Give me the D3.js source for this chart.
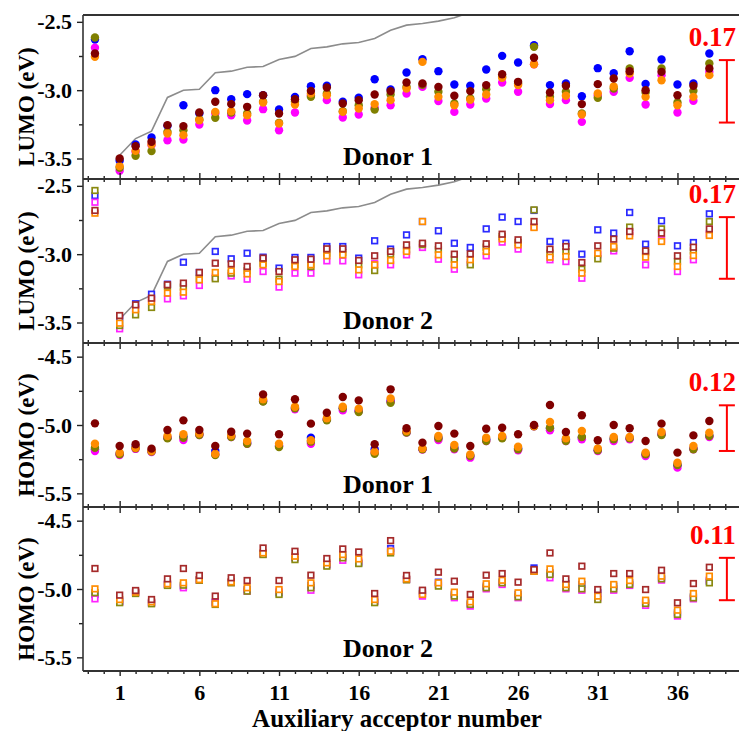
<!DOCTYPE html>
<html><head><meta charset="utf-8">
<script src="https://cdn.jsdelivr.net/npm/d3@7"></script>
<style>
body{margin:0;background:#fff}
svg text{font-family:"Liberation Serif","Times New Roman",serif;font-weight:bold;fill:#000}
</style>
</head><body>
<svg id="chart" width="739" height="731"></svg>
<script>
// ---------------- DATA ----------------
const acceptorX = [-0.55,1,2,3,4,5,6,7,8,9,10,11,12,13,14,15,16,17,18,19,20,21,22,23,24,25,26,27,28,29,30,31,32,33,34,35,36,37,38];
const xTickLabels = ["1","6","11","16","21","26","31","36"];
const seriesNames = ["blue","magenta","olive","orange","maroon"];

// auxiliary acceptor LUMO (grey line), acceptors 1..23 (continues above the frame)
const lineX = [1,2,3,4,5,6,7,8,9,10,11,12,13,14,15,16,17,18,19,20,21,22,23];
const acceptorLumo = [-3.476,-3.354,-3.30,-3.053,-3.0,-2.993,-2.873,-2.861,-2.832,-2.827,-2.775,-2.753,-2.695,-2.683,-2.661,-2.651,-2.622,-2.561,-2.524,-2.512,-2.495,-2.47,-2.43];

// LUMO, Donor 1
const lumoD1_blue    = [-2.629,-3.517,-3.398,-3.346,-3.261,-3.110,-3.17,-3.0,-3.066,-3.029,-3.037,-3.141,-3.049,-2.971,-2.968,-3.085,-3.056,-2.92,-2.995,-2.871,-2.773,-2.861,-2.959,-2.968,-2.849,-2.749,-2.798,-2.671,-2.963,-2.951,-3.044,-2.839,-2.876,-2.715,-2.954,-2.776,-2.959,-2.951,-2.732];
const lumoD1_olive   = [-2.615,-3.568,-3.48,-3.446,-3.305,-3.293,-3.215,-3.202,-3.163,-3.171,-3.085,-3.239,-3.085,-3.049,-3.024,-3.154,-3.11,-3.141,-3.032,-2.976,-2.96,-3.012,-3.098,-3.061,-2.993,-2.902,-2.951,-2.683,-3.049,-3.012,-3.171,-3.056,-2.988,-2.841,-3.017,-2.841,-3.09,-3.005,-2.805];
const lumoD1_magenta = [-2.69,-3.59,-3.451,-3.402,-3.366,-3.361,-3.251,-3.171,-3.183,-3.222,-3.139,-3.293,-3.163,-3.037,-3.073,-3.2,-3.178,-3.13,-3.11,-3.024,-2.976,-3.08,-3.159,-3.105,-3.061,-2.944,-3.012,-2.81,-3.102,-3.073,-3.232,-3.037,-3.012,-2.91,-3.105,-2.89,-3.163,-3.078,-2.866];
const lumoD1_maroon  = [-2.732,-3.5,-3.41,-3.378,-3.256,-3.263,-3.163,-3.085,-3.102,-3.122,-3.037,-3.171,-3.066,-3.005,-2.98,-3.098,-3.073,-3.032,-3.007,-2.944,-2.951,-2.976,-3.041,-3.007,-2.963,-2.883,-2.939,-2.763,-3.017,-2.968,-3.102,-2.956,-2.915,-2.861,-3.0,-2.866,-3.037,-2.968,-2.841];
const lumoD1_orange  = [-2.756,-3.556,-3.444,-3.398,-3.317,-3.329,-3.22,-3.159,-3.154,-3.183,-3.09,-3.244,-3.105,-3.024,-3.037,-3.159,-3.134,-3.102,-3.073,-2.988,-2.793,-3.049,-3.11,-3.07,-3.032,-2.91,-2.963,-2.81,-3.073,-3.041,-3.178,-3.024,-2.973,-2.878,-3.049,-2.927,-3.11,-3.049,-2.89];

// LUMO, Donor 2
const lumoD2_blue    = [-2.571,-3.468,-3.363,-3.293,-3.22,-3.059,-3.134,-2.98,-3.034,-2.993,-3.022,-3.102,-3.024,-3.024,-2.944,-2.944,-3.029,-2.902,-2.963,-2.859,-2.761,-2.829,-2.92,-2.951,-2.815,-2.729,-2.761,-2.68,-2.907,-2.92,-3.0,-2.822,-2.846,-2.695,-2.927,-2.756,-2.939,-2.915,-2.705];
const lumoD2_olive   = [-2.534,-3.522,-3.444,-3.39,-3.234,-3.241,-3.176,-3.18,-3.139,-3.122,-3.066,-3.183,-3.078,-3.09,-2.993,-2.99,-3.078,-3.12,-3.0,-2.968,-2.93,-2.968,-3.037,-3.078,-2.949,-2.871,-2.915,-2.676,-2.993,-2.98,-3.11,-3.034,-2.956,-2.802,-2.988,-2.815,-3.054,-2.976,-2.761];
const lumoD2_magenta = [-2.62,-3.546,-3.395,-3.334,-3.327,-3.305,-3.229,-3.168,-3.159,-3.183,-3.127,-3.241,-3.139,-3.139,-3.049,-3.049,-3.151,-3.07,-3.078,-3.005,-2.951,-3.037,-3.11,-3.06,-3.012,-2.912,-2.963,-2.8,-3.041,-3.054,-3.176,-3.005,-2.976,-2.846,-3.078,-2.895,-3.127,-3.041,-2.851];
const lumoD2_maroon  = [-2.68,-3.449,-3.371,-3.322,-3.224,-3.212,-3.134,-3.066,-3.071,-3.09,-3.029,-3.127,-3.041,-3.037,-2.961,-2.961,-3.046,-3.012,-2.98,-2.932,-2.92,-2.939,-3.0,-2.998,-2.924,-2.854,-2.895,-2.761,-2.963,-2.944,-3.061,-2.939,-2.89,-2.834,-2.976,-2.846,-3.012,-2.949,-2.815];
const lumoD2_orange  = [-2.7,-3.505,-3.407,-3.346,-3.285,-3.278,-3.188,-3.134,-3.122,-3.144,-3.078,-3.2,-3.09,-3.078,-3.012,-3.005,-3.115,-3.078,-3.046,-2.98,-2.761,-3.005,-3.078,-3.041,-2.98,-2.888,-2.932,-2.805,-3.022,-3.017,-3.139,-2.993,-2.944,-2.866,-3.022,-2.907,-3.09,-3.01,-2.863];

// HOMO, Donor 1
const homoD1_blue    = [-5.178,-5.21,-5.16,-5.19,-5.093,-5.085,-5.068,-5.19,-5.08,-5.13,-4.824,-5.154,-4.873,-5.093,-4.959,-4.878,-4.898,-5.178,-4.824,-5.052,-5.175,-5.093,-5.166,-5.227,-5.105,-5.088,-5.171,-5.005,-5.024,-5.105,-5.093,-5.185,-5.098,-5.098,-5.215,-5.068,-5.295,-5.171,-5.08];
const homoD1_olive   = [-5.166,-5.215,-5.17,-5.195,-5.098,-5.093,-5.073,-5.22,-5.088,-5.137,-4.829,-5.161,-4.878,-5.122,-4.966,-4.878,-4.905,-5.21,-4.837,-5.056,-5.178,-5.098,-5.173,-5.227,-5.117,-5.098,-5.178,-5.01,-5.02,-5.117,-5.088,-5.185,-5.105,-5.098,-5.215,-5.073,-5.293,-5.178,-5.08];
const homoD1_magenta = [-5.19,-5.22,-5.175,-5.198,-5.093,-5.11,-5.073,-5.215,-5.088,-5.137,-4.824,-5.154,-4.885,-5.137,-4.959,-4.893,-4.898,-5.202,-4.829,-5.056,-5.18,-5.11,-5.178,-5.239,-5.117,-5.093,-5.185,-5.01,-5.039,-5.117,-5.105,-5.19,-5.117,-5.105,-5.227,-5.068,-5.312,-5.178,-5.088];
const homoD1_maroon  = [-4.988,-5.154,-5.141,-5.173,-5.037,-4.966,-5.037,-5.154,-5.049,-5.063,-4.776,-5.068,-4.812,-4.99,-4.91,-4.795,-4.82,-5.141,-4.739,-5.024,-5.129,-5.007,-5.063,-5.154,-5.027,-5.02,-5.068,-5.0,-4.854,-5.051,-4.929,-5.112,-5.0,-5.024,-5.117,-4.99,-5.202,-5.076,-4.971];
const homoD1_orange  = [-5.137,-5.202,-5.166,-5.19,-5.08,-5.068,-5.063,-5.21,-5.076,-5.117,-4.812,-5.137,-4.866,-5.112,-4.951,-4.866,-4.88,-5.195,-4.805,-5.044,-5.171,-5.08,-5.146,-5.215,-5.093,-5.08,-5.159,-5.007,-4.978,-5.098,-5.044,-5.171,-5.088,-5.088,-5.202,-5.051,-5.276,-5.154,-5.056];

// HOMO, Donor 2
const homoD2_blue    = [-5.04,-5.09,-5.023,-5.1,-4.967,-4.979,-4.934,-5.096,-4.95,-5.004,-4.742,-5.028,-4.77,-4.974,-4.82,-4.76,-4.809,-5.089,-4.704,-4.93,-5.016,-4.95,-5.04,-5.106,-4.979,-4.948,-5.04,-4.846,-4.882,-4.962,-4.967,-5.028,-4.979,-4.955,-5.096,-4.918,-5.174,-5.057,-4.943];
const homoD2_olive   = [-5.027,-5.1,-5.033,-5.108,-4.974,-4.972,-4.936,-5.113,-4.955,-5.016,-4.748,-5.04,-4.785,-4.991,-4.833,-4.772,-4.814,-5.1,-4.736,-4.933,-5.033,-4.979,-5.052,-5.113,-4.991,-4.955,-5.057,-4.87,-4.894,-4.991,-4.999,-5.077,-4.999,-4.967,-5.106,-4.926,-5.186,-5.065,-4.955];
const homoD2_magenta = [-5.072,-5.096,-5.028,-5.104,-4.967,-4.991,-4.934,-5.1,-4.952,-5.016,-4.745,-5.016,-4.772,-5.009,-4.825,-4.79,-4.797,-5.089,-4.724,-4.93,-5.052,-4.967,-5.064,-5.125,-4.999,-4.967,-5.064,-4.87,-4.918,-4.999,-5.009,-5.065,-5.009,-4.974,-5.12,-4.935,-5.198,-5.072,-4.935];
const homoD2_maroon  = [-4.85,-5.045,-5.011,-5.077,-4.926,-4.85,-4.901,-5.052,-4.918,-4.938,-4.7,-4.938,-4.724,-4.899,-4.777,-4.707,-4.729,-5.033,-4.646,-4.901,-5.009,-4.877,-4.943,-5.04,-4.899,-4.887,-4.95,-4.858,-4.736,-4.926,-4.833,-5.004,-4.887,-4.887,-5.004,-4.863,-5.101,-4.96,-4.841];
const homoD2_orange  = [-4.999,-5.077,-5.023,-5.094,-4.962,-4.955,-4.931,-5.108,-4.948,-4.991,-4.736,-5.004,-4.76,-4.955,-4.809,-4.748,-4.78,-5.077,-4.724,-4.926,-5.04,-4.955,-5.023,-5.094,-4.962,-4.936,-5.028,-4.87,-4.853,-4.967,-4.943,-5.052,-4.967,-4.938,-5.082,-4.906,-5.155,-5.033,-4.906];

// spread bars (value extents) and their labels
const spreadBars   = [[-2.78,-3.237],[-2.729,-3.18],[-4.856,-5.19],[-4.772,-5.082]];
const spreadLabels = ["0.17","0.17","0.12","0.11"];
const panelTitles  = ["LUMO (eV)","LUMO (eV)","HOMO (eV)","HOMO (eV)"];
const donorLabels  = ["Donor 1","Donor 2","Donor 1","Donor 2"];
const lumoTicks = [-2.5,-3.0,-3.5], lumoMinor = [-2.75,-3.25];
const homoTicks = [-4.5,-5.0,-5.5], homoMinor = [-4.75,-5.25];

// ---------------- LAYOUT ----------------
const W = 739, H = 731;
const left = 83, right = 746;
const panelTop = [15,179,343,507], panelH = 164;
const circleColors = {blue:"#0000ff", magenta:"#ff00ff", olive:"#808000", orange:"#ff8c00", maroon:"#800000"};
const squareColors = {blue:"#2a2aff", magenta:"#ff22ff", olive:"#8a8a10", orange:"#ff8c00", maroon:"#a52a2a"};

const svg = d3.select("#chart");
const x = d3.scaleLinear().domain([-1.3, 40.3]).range([left, right]);
const majorX = xTickLabels.map(Number);
const minorX = d3.range(-1, 41).filter(v => !majorX.includes(v));

const panels = [
  {data:{blue:lumoD1_blue,magenta:lumoD1_magenta,olive:lumoD1_olive,orange:lumoD1_orange,maroon:lumoD1_maroon}, shape:"circle", domain:[-3.65,-2.45], ticks:lumoTicks, minor:lumoMinor, line:true},
  {data:{blue:lumoD2_blue,magenta:lumoD2_magenta,olive:lumoD2_olive,orange:lumoD2_orange,maroon:lumoD2_maroon}, shape:"square", domain:[-3.65,-2.45], ticks:lumoTicks, minor:lumoMinor, line:true},
  {data:{blue:homoD1_blue,magenta:homoD1_magenta,olive:homoD1_olive,orange:homoD1_orange,maroon:homoD1_maroon}, shape:"circle", domain:[-5.6,-4.4], ticks:homoTicks, minor:homoMinor, line:false},
  {data:{blue:homoD2_blue,magenta:homoD2_magenta,olive:homoD2_olive,orange:homoD2_orange,maroon:homoD2_maroon}, shape:"square", domain:[-5.6,-4.4], ticks:homoTicks, minor:homoMinor, line:false}
];

const defs = svg.append("defs");

panels.forEach((p, i) => {
  const top = panelTop[i], bottom = top + panelH;
  const y = d3.scaleLinear().domain(p.domain).range([bottom, top]);
  const g = svg.append("g");

  defs.append("clipPath").attr("id","clip"+i).append("rect")
    .attr("x", left).attr("y", top).attr("width", right-left).attr("height", panelH);

  // grey acceptor line
  if (p.line) {
    g.append("path").attr("clip-path","url(#clip"+i+")")
      .datum(lineX.map((v,k)=>[v, acceptorLumo[k]]))
      .attr("fill","none").attr("stroke","#8c8c8c").attr("stroke-width",1.6)
      .attr("d", d3.line().x(d=>x(d[0])).y(d=>y(d[1])));
  }

  // points
  seriesNames.forEach(name => {
    const vals = p.data[name];
    const pts = acceptorX.map((v,k)=>({x:v, y:vals[k]}));
    if (p.shape === "circle") {
      g.append("g").selectAll("circle").data(pts).join("circle")
        .attr("cx", d=>x(d.x)).attr("cy", d=>y(d.y)).attr("r", 4.2)
        .attr("fill", circleColors[name]);
    } else {
      const s = 5.6;
      g.append("g").selectAll("rect").data(pts).join("rect")
        .attr("x", d=>x(d.x)-s/2).attr("y", d=>y(d.y)-s/2)
        .attr("width", s).attr("height", s)
        .attr("fill","#fff").attr("stroke", squareColors[name]).attr("stroke-width",1.7);
    }
  });

  // spread bar
  const [b0, b1] = spreadBars[i];
  const bx = x(39.1);
  const bar = g.append("g").attr("stroke","#ff0000").attr("stroke-width",2);
  bar.append("line").attr("x1",bx).attr("x2",bx).attr("y1",y(b0)).attr("y2",y(b1));
  bar.append("line").attr("x1",bx-8).attr("x2",bx+8).attr("y1",y(b0)).attr("y2",y(b0));
  bar.append("line").attr("x1",bx-8).attr("x2",bx+8).attr("y1",y(b1)).attr("y2",y(b1));
  g.append("text").attr("x", bx+9).attr("y", y(b0)-14).attr("text-anchor","end")
    .style("font-size","27px").style("fill","#ff0000").text(spreadLabels[i]);

  // donor label
  g.append("text").attr("x", 388).attr("y", bottom-14).attr("text-anchor","middle")
    .style("font-size","26px").text(donorLabels[i]);

  // y axis
  const yAx = g.append("g").attr("transform",`translate(${left},0)`)
    .call(d3.axisLeft(y).tickValues(p.ticks).tickSize(6).tickPadding(5).tickFormat(d3.format(".1f")));
  yAx.selectAll("text").style("font-size","22px").text(d=>d3.format(".1f")(d).replace("−","-"));
  const yMin = g.append("g").attr("transform",`translate(${left},0)`)
    .call(d3.axisLeft(y).tickValues(p.minor).tickSize(4).tickFormat(""));
  [yAx, yMin].forEach(a => { a.select(".domain").remove(); a.selectAll("line").attr("stroke","#222").attr("stroke-width",1.4); });

  // y title
  g.append("text").attr("transform",`translate(34,${top+panelH/2+10}) rotate(-90)`)
    .attr("text-anchor","middle").style("font-size","23px").text(panelTitles[i]);

  // x ticks at panel bottom
  const last = i === panels.length-1;
  const xb = g.append("g").attr("transform",`translate(0,${bottom})`);
  xb.call(d3.axisBottom(x).tickValues(majorX).tickSize(last?5:6).tickFormat(last ? (d=>String(d)) : ""));
  xb.append("g").call(d3.axisBottom(x).tickValues(minorX).tickSize(3).tickFormat(""));
  if (!last) {
    xb.append("g").call(d3.axisTop(x).tickValues(majorX).tickSize(6).tickFormat(""));
    xb.append("g").call(d3.axisTop(x).tickValues(minorX).tickSize(3).tickFormat(""));
  }
  xb.selectAll(".domain").remove();
  xb.selectAll("line").attr("stroke","#222").attr("stroke-width",1.4);
  xb.selectAll("text").style("font-size","22px").attr("dy","0.95em");
});

// frame lines
const frame = svg.append("g").attr("stroke","#333").attr("fill","none");
frame.append("line").attr("x1",left).attr("x2",right).attr("y1",panelTop[0]).attr("y2",panelTop[0]).attr("stroke-width",2);
panelTop.slice(1).concat([panelTop[3]+panelH]).forEach(yy => {
  frame.append("line").attr("x1",left).attr("x2",right).attr("y1",yy).attr("y2",yy).attr("stroke-width",1.8);
});
frame.append("line").attr("x1",left).attr("x2",left).attr("y1",panelTop[0]).attr("y2",panelTop[3]+panelH).attr("stroke-width",1.6);

// x title
svg.append("text").attr("x",397).attr("y",727).attr("text-anchor","middle")
  .style("font-size","25px").text("Auxiliary acceptor number");
</script>
</body></html>
